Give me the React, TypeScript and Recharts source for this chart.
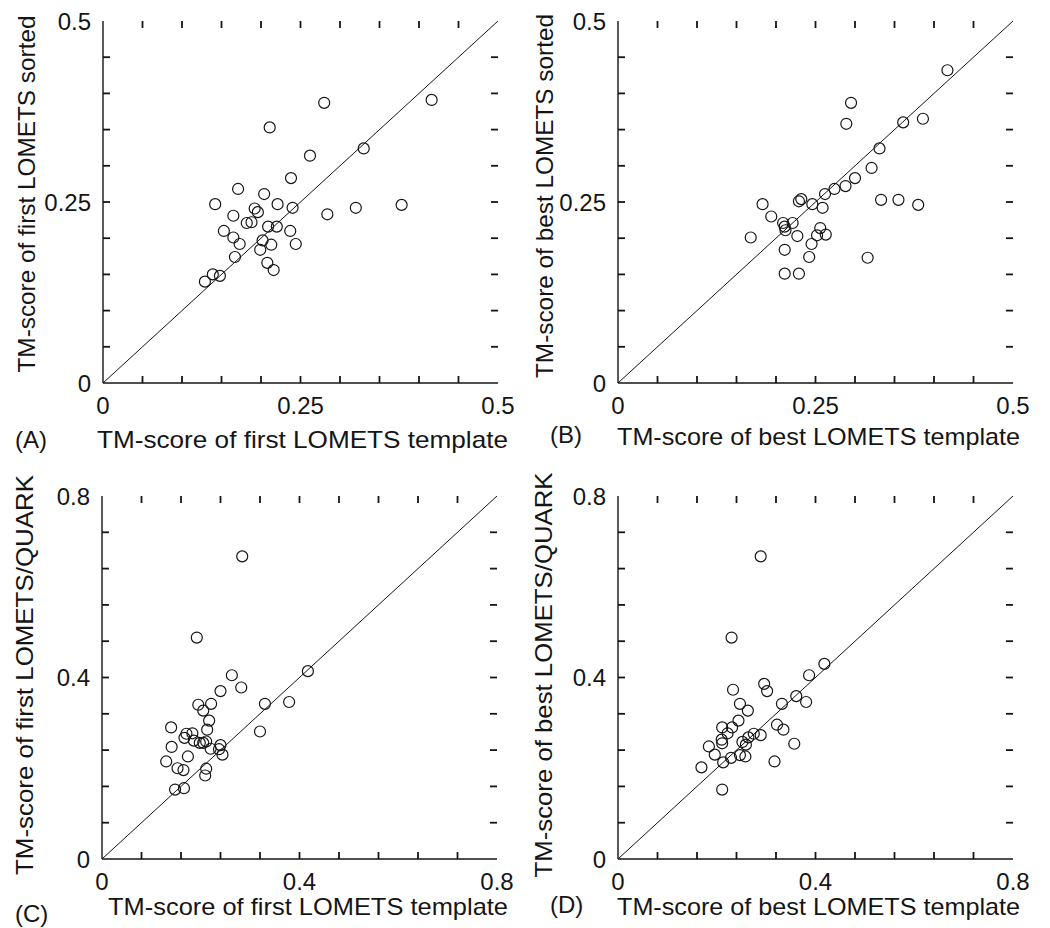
import { ScatterChart, Scatter, XAxis, YAxis, ReferenceLine, Label } from "recharts";

const FONT = '"Liberation Sans", Arial, Helvetica, sans-serif';
const INK = "#151515";
const TICK_LEN = 7;
const TICK_W = 1.8;

// tick positions (minor ticks every tenth of the range) and which of them carry a label
const ticksHalf = [0, 0.05, 0.1, 0.15, 0.2, 0.25, 0.3, 0.35, 0.4, 0.45, 0.5];
const labelsHalf = [0, 0.25, 0.5];
const ticksWide = [0, 0.08, 0.16, 0.24, 0.32, 0.4, 0.48, 0.56, 0.64, 0.72, 0.8];
const labelsWide = [0, 0.4, 0.8];

// (A) first LOMETS template vs first LOMETS sorted
const firstTemplateA = [
  0.28, 0.416, 0.211, 0.33, 0.262, 0.238, 0.171, 0.204, 0.142, 0.221, 0.192, 0.196,
  0.24, 0.378, 0.32, 0.284, 0.165, 0.182, 0.188, 0.209, 0.22, 0.153, 0.237, 0.165,
  0.202, 0.173, 0.213, 0.244, 0.199, 0.167, 0.208, 0.216, 0.139, 0.148, 0.129,
];
const firstSortedA = [
  0.387, 0.391, 0.353, 0.324, 0.314, 0.283, 0.268, 0.261, 0.247, 0.247, 0.241, 0.236,
  0.242, 0.246, 0.242, 0.233, 0.231, 0.221, 0.222, 0.216, 0.216, 0.21, 0.21, 0.201,
  0.197, 0.192, 0.191, 0.192, 0.184, 0.174, 0.166, 0.156, 0.15, 0.148, 0.14,
];

// (B) best LOMETS template vs best LOMETS sorted
const bestTemplateB = [
  0.417, 0.295, 0.289, 0.361, 0.386, 0.331, 0.321, 0.3, 0.288, 0.274, 0.262, 0.232,
  0.229, 0.246, 0.259, 0.183, 0.333, 0.355, 0.38, 0.194, 0.209, 0.221, 0.211, 0.212,
  0.256, 0.252, 0.263, 0.227, 0.168, 0.245, 0.211, 0.242, 0.316, 0.211, 0.229,
];
const bestSortedB = [
  0.432, 0.387, 0.358, 0.36, 0.365, 0.324, 0.297, 0.283, 0.272, 0.268, 0.261, 0.254,
  0.251, 0.247, 0.242, 0.247, 0.253, 0.253, 0.246, 0.23, 0.221, 0.221, 0.216, 0.211,
  0.214, 0.204, 0.205, 0.203, 0.201, 0.192, 0.184, 0.174, 0.173, 0.151, 0.151,
];

// (C) first LOMETS template vs first LOMETS/QUARK
const firstTemplateC = [
  0.284, 0.192, 0.417, 0.263, 0.282, 0.24, 0.195, 0.221, 0.33, 0.379, 0.205, 0.217,
  0.14, 0.213, 0.32, 0.171, 0.183, 0.167, 0.186, 0.198, 0.205, 0.211, 0.24, 0.141,
  0.22, 0.237, 0.244, 0.174, 0.13, 0.153, 0.165, 0.211, 0.209, 0.148, 0.166,
];
const firstQuarkC = [
  0.667, 0.488, 0.414, 0.405, 0.378, 0.37, 0.34, 0.342, 0.342, 0.346, 0.327, 0.305,
  0.29, 0.285, 0.281, 0.276, 0.277, 0.267, 0.261, 0.256, 0.256, 0.259, 0.251, 0.247,
  0.243, 0.242, 0.23, 0.226, 0.215, 0.2, 0.196, 0.199, 0.184, 0.153, 0.156,
];

// (D) best LOMETS template vs best LOMETS/QUARK
const bestTemplateD = [
  0.289, 0.23, 0.418, 0.387, 0.296, 0.302, 0.233, 0.361, 0.381, 0.332, 0.247, 0.263,
  0.244, 0.231, 0.211, 0.222, 0.322, 0.335, 0.275, 0.289, 0.264, 0.252, 0.259, 0.21,
  0.211, 0.184, 0.357, 0.196, 0.247, 0.258, 0.229, 0.213, 0.169, 0.317, 0.211,
];
const bestQuarkD = [
  0.667, 0.488, 0.43, 0.405, 0.386, 0.37, 0.373, 0.359, 0.346, 0.342, 0.342, 0.327,
  0.305, 0.29, 0.29, 0.277, 0.296, 0.285, 0.276, 0.273, 0.268, 0.258, 0.252, 0.263,
  0.255, 0.248, 0.254, 0.23, 0.229, 0.226, 0.223, 0.213, 0.202, 0.215, 0.153,
];

interface PanelProps {
  xs: number[];
  ys: number[];
  max: number;
  ticks: number[];
  labeled: number[];
  left: number;
  top: number;
  axisWidth: number;
  marginTop: number;
  axisHeight: number;
  letter: string;
  xTitle: string;
  yTitle: string;
  titleX: number;
  titleY: number;
  titleLen: number;
  letterX: number;
  letterY: number;
  yTitleX: number;
  yTitleY: number;
  yTitleLen: number;
}

interface TickProps {
  x: number;
  y: number;
  payload: { value: number };
}

const W = 525;
const H = 464;
const PLOT_W = 395;

function Panel(p: PanelProps) {
  const points = p.xs.map((x, i) => ({ x, y: p.ys[i] }));
  const line = { stroke: INK, strokeWidth: 1.4 };
  const plotH = H - p.marginTop - p.axisHeight;
  // inward tick length, expressed in data units so the chart's scales place it
  const lenX = (TICK_LEN / PLOT_W) * p.max;
  const lenY = (TICK_LEN / plotH) * p.max;
  const inner = p.ticks.slice(1, -1);
  const tickStyle = { stroke: INK, strokeWidth: TICK_W };

  const tickMarks = inner.flatMap((t) => [
    <ReferenceLine key={`b${t}`} segment={[{ x: t, y: 0 }, { x: t, y: lenY }]} {...tickStyle} />,
    <ReferenceLine key={`t${t}`} segment={[{ x: t, y: p.max }, { x: t, y: p.max - lenY }]} {...tickStyle} />,
    <ReferenceLine key={`l${t}`} segment={[{ x: 0, y: t }, { x: lenX, y: t }]} {...tickStyle} />,
    <ReferenceLine key={`r${t}`} segment={[{ x: p.max, y: t }, { x: p.max - lenX, y: t }]} {...tickStyle} />,
  ]);

  return (
    <div style={{ position: "absolute", left: p.left, top: p.top }}>
      <ScatterChart
        width={W}
        height={H}
        margin={{ top: p.marginTop, right: W - p.axisWidth - PLOT_W, bottom: 0, left: 0 }}
      >
        <XAxis
          dataKey="x"
          type="number"
          domain={[0, p.max]}
          ticks={p.ticks}
          interval={0}
          tick={(t: TickProps) => (
            <text x={t.x} y={t.y + 14} dy="0.71em" textAnchor="middle" fontFamily={FONT} fontSize={24} fill={INK}>
              {p.labeled.includes(t.payload.value) ? String(t.payload.value) : ""}
            </text>
          )}
          tickLine={false}
          tickSize={0}
          tickMargin={0}
          height={p.axisHeight}
          axisLine={line}
        >
          <Label
            content={() => (
              <g fontFamily={FONT} fontSize={24} fill={INK}>
                <text x={p.letterX} y={p.letterY}>
                  {p.letter}
                </text>
                <text x={p.titleX} y={p.titleY} textLength={p.titleLen} lengthAdjust="spacingAndGlyphs">
                  {p.xTitle}
                </text>
              </g>
            )}
          />
        </XAxis>
        <YAxis
          dataKey="y"
          type="number"
          domain={[0, p.max]}
          ticks={p.ticks}
          interval={0}
          tick={(t: TickProps) => (
            <text x={t.x - 12} y={t.y} dy="0.355em" textAnchor="end" fontFamily={FONT} fontSize={24} fill={INK}>
              {p.labeled.includes(t.payload.value) ? String(t.payload.value) : ""}
            </text>
          )}
          tickLine={false}
          tickSize={0}
          tickMargin={0}
          width={p.axisWidth}
          axisLine={line}
        >
          <Label
            content={() => (
              <text
                x={p.yTitleX}
                y={p.yTitleY}
                transform={`rotate(-90, ${p.yTitleX}, ${p.yTitleY})`}
                textAnchor="middle"
                fontFamily={FONT}
                fontSize={24}
                fill={INK}
                textLength={p.yTitleLen}
                lengthAdjust="spacingAndGlyphs"
              >
                {p.yTitle}
              </text>
            )}
          />
        </YAxis>
        <XAxis
          xAxisId="top"
          orientation="top"
          type="number"
          domain={[0, p.max]}
          tick={false}
          tickLine={false}
          height={0}
          axisLine={line}
        />
        <YAxis
          yAxisId="right"
          orientation="right"
          type="number"
          domain={[0, p.max]}
          tick={false}
          tickLine={false}
          width={0}
          axisLine={line}
        />
        {tickMarks}
        <ReferenceLine
          segment={[
            { x: 0, y: 0 },
            { x: p.max, y: p.max },
          ]}
          stroke={INK}
          strokeWidth={1}
        />
        <Scatter
          data={points}
          isAnimationActive={false}
          shape={(s: { cx?: number; cy?: number }) => (
            <circle cx={s.cx} cy={s.cy} r={5.5} fill="none" stroke={INK} strokeWidth={1.2} />
          )}
        />
      </ScatterChart>
    </div>
  );
}

export default function App() {
  return (
    <div
      style={{
        position: "absolute",
        left: 0,
        top: 0,
        width: 1050,
        height: 928,
        background: "#fff",
        overflow: "hidden",
      }}
    >
      <Panel
        xs={firstTemplateA}
        ys={firstSortedA}
        max={0.5}
        ticks={ticksHalf}
        labeled={labelsHalf}
        left={0}
        top={0}
        axisWidth={103}
        marginTop={21}
        axisHeight={81}
        letter="(A)"
        xTitle="TM-score of first LOMETS template"
        yTitle="TM-score of first LOMETS sorted"
        titleX={97}
        titleY={448}
        titleLen={411}
        letterX={15}
        letterY={448}
        yTitleX={35}
        yTitleY={194}
        yTitleLen={357}
      />
      <Panel
        xs={bestTemplateB}
        ys={bestSortedB}
        max={0.5}
        ticks={ticksHalf}
        labeled={labelsHalf}
        left={515}
        top={0}
        axisWidth={103}
        marginTop={21}
        axisHeight={81}
        letter="(B)"
        xTitle="TM-score of best LOMETS template"
        yTitle="TM-score of best LOMETS sorted"
        titleX={102}
        titleY={445}
        titleLen={403}
        letterX={35}
        letterY={443}
        yTitleX={38}
        yTitleY={196}
        yTitleLen={364}
      />
      <Panel
        xs={firstTemplateC}
        ys={firstQuarkC}
        max={0.8}
        ticks={ticksWide}
        labeled={labelsWide}
        left={0}
        top={464}
        axisWidth={102}
        marginTop={32}
        axisHeight={69}
        letter="(C)"
        xTitle="TM-score of first LOMETS template"
        yTitle="TM-score of first LOMETS/QUARK"
        titleX={108}
        titleY={451}
        titleLen={400}
        letterX={15}
        letterY={458}
        yTitleX={33}
        yTitleY={211}
        yTitleLen={400}
      />
      <Panel
        xs={bestTemplateD}
        ys={bestQuarkD}
        max={0.8}
        ticks={ticksWide}
        labeled={labelsWide}
        left={515}
        top={464}
        axisWidth={103}
        marginTop={32}
        axisHeight={69}
        letter="(D)"
        xTitle="TM-score of best LOMETS template"
        yTitle="TM-score of best LOMETS/QUARK"
        titleX={102}
        titleY={451}
        titleLen={403}
        letterX={35}
        letterY={449}
        yTitleX={37}
        yTitleY={211}
        yTitleLen={405}
      />
    </div>
  );
}
